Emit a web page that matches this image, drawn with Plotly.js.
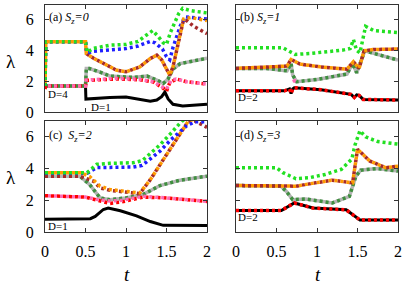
<!DOCTYPE html>
<html><head><meta charset="utf-8">
<script src="https://cdn.plot.ly/plotly-3.0.1.min.js"></script>
<style>html,body{margin:0;padding:0;background:#fff}#chart{width:407px;height:285px}</style>
</head><body><div id="chart"></div>
<script>
// ---------- Panel (a) S_z=0 ----------
const a_black_t = [0, 0.5, 0.505, 0.62, 0.8, 1.0, 1.17, 1.3, 1.38, 1.44, 1.48, 1.52, 1.58, 1.7, 2.0];
const a_black   = [1.69, 1.69, 0.84, 0.89, 0.95, 0.97, 0.84, 0.7, 0.78, 1.0, 1.3, 0.85, 0.5, 0.39, 0.5];
const a_red_t   = [0, 0.01, 0.5, 0.51, 0.68, 0.88, 1.17, 1.34, 1.46, 1.5, 1.54, 1.62, 1.75, 2.0];
const a_red     = [1.5, 1.69, 1.69, 2.05, 2.1, 2.15, 2.1, 1.95, 1.55, 1.35, 1.9, 2.15, 1.97, 1.82];
const a_pink_t  = [0, 0.5, 0.51, 0.68, 0.88, 1.17, 1.34, 1.46, 1.5, 1.56, 1.62, 1.75, 2.0];
const a_pink    = [1.69, 1.69, 2.08, 2.12, 2.19, 2.12, 1.97, 1.6, 1.5, 2.08, 2.15, 1.97, 1.82];
const a_gg_t    = [0, 0.5, 0.51, 0.55, 0.68, 0.8, 1.09, 1.26, 1.38, 1.46, 1.52, 1.58, 1.67, 1.83, 2.0];
const a_gg      = [1.69, 1.69, 2.83, 2.83, 2.6, 2.34, 2.25, 2.34, 2.08, 1.86, 2.16, 2.8, 3.15, 3.3, 3.5];
const a_green_t = [0, 0.01, 0.5, 0.52, 0.6, 0.8, 1.0, 1.15, 1.25, 1.33, 1.4, 1.46, 1.5, 1.55, 1.65, 1.7, 1.8, 2.0];
const a_green   = [1.7, 4.57, 4.57, 3.9, 4.15, 4.35, 4.4, 4.6, 5.0, 5.3, 4.9, 4.5, 4.4, 5.2, 6.4, 6.75, 6.6, 6.45];
const a_blue_t  = [0, 0.01, 0.5, 0.52, 0.6, 0.8, 1.0, 1.15, 1.3, 1.36, 1.45, 1.5, 1.54, 1.58, 1.67, 1.73, 1.85, 2.0];
const a_blue    = [1.7, 4.57, 4.57, 3.85, 3.95, 4.05, 4.13, 4.3, 4.6, 4.5, 4.1, 3.6, 3.4, 4.2, 5.6, 6.2, 6.15, 6.05];
const a_orange_t= [0, 0.01, 0.5, 0.51, 0.6, 0.68, 0.88, 1.0, 1.17, 1.3, 1.38, 1.44, 1.5, 1.54, 1.58, 1.67, 1.71, 1.8, 2.0];
const a_orange  = [1.7, 4.57, 4.57, 3.8, 3.5, 3.27, 2.73, 2.62, 2.94, 3.48, 3.7, 3.4, 2.73, 2.4, 2.94, 5.1, 6.05, 6.15, 5.95];
const a_brown_t = [0, 0.01, 0.5, 0.51, 0.6, 0.68, 0.88, 1.0, 1.17, 1.3, 1.38, 1.44, 1.5, 1.54, 1.58, 1.67, 1.71, 1.75, 1.83, 2.0];
const a_brown   = [1.7, 4.57, 4.57, 3.8, 3.5, 3.27, 2.73, 2.62, 2.94, 3.48, 3.7, 3.4, 2.73, 2.4, 2.94, 5.1, 6.0, 5.95, 5.6, 5.1];

// ---------- Panel (b) S_z=1 ----------
const b_red_t   = [0, 0.6, 0.66, 0.68, 0.7, 0.72, 1.05, 1.42, 1.46, 1.49, 1.52, 1.57, 2.0];
const b_red     = [1.38, 1.38, 1.5, 1.2, 1.5, 1.58, 1.45, 1.15, 0.95, 1.12, 1.08, 0.82, 0.78];
const b_pink_t  = [0.7, 0.72, 0.76];
const b_pink    = [2.3, 2.02, 1.97];
const b_gg_t    = [0, 0.38, 0.63, 0.68, 0.7, 0.75, 1.0, 1.37, 1.44, 1.49, 1.59, 1.7, 2.0];
const b_gg      = [2.84, 2.84, 2.68, 3.16, 2.4, 1.97, 2.12, 2.47, 3.16, 2.55, 3.98, 3.81, 3.38];
const b_green_t = [0, 0.58, 0.67, 0.73, 0.91, 1.12, 1.32, 1.41, 1.45, 1.49, 1.53, 1.6, 1.7, 2.0];
const b_green   = [4.18, 4.18, 3.92, 3.75, 3.81, 3.92, 4.03, 4.13, 4.72, 4.0, 3.85, 5.58, 5.3, 5.17];
const b_orange_t= [0, 0.63, 0.68, 0.79, 1.04, 1.37, 1.45, 1.52, 1.58, 1.7, 2.0];
const b_orange  = [2.84, 2.99, 3.42, 3.12, 2.94, 2.79, 3.27, 2.84, 3.98, 4.07, 4.1];

// ---------- Panel (c) S_z=2 ----------
const c_black_t = [0, 0.5, 0.56, 0.62, 0.72, 0.78, 0.93, 1.13, 1.3, 1.46, 2.0];
const c_black   = [0.81, 0.82, 0.84, 0.98, 1.42, 1.51, 1.34, 1.02, 0.66, 0.42, 0.41];
const c_red_t   = [0, 0.5, 0.65, 0.8, 0.95, 1.21, 1.5, 2.0];
const c_red     = [2.29, 2.2, 2.0, 1.8, 1.9, 2.2, 2.15, 1.93];
const c_pink_t  = [0, 0.5, 0.65, 0.8, 0.95, 1.21, 1.5, 2.0];
const c_pink    = [2.29, 2.2, 2.05, 1.95, 2.0, 2.25, 2.15, 1.93];
const c_gg_t    = [0, 0.43, 0.55, 0.68, 0.8, 1.0, 1.21, 1.42, 1.67, 2.0];
const c_gg      = [3.52, 3.52, 3.0, 2.15, 2.04, 2.15, 2.36, 2.93, 3.27, 3.52];
const c_green_t = [0, 0.52, 0.64, 0.8, 1.09, 1.2, 1.3, 1.42, 1.55, 1.69, 1.85, 2.0];
const c_green   = [3.74, 3.74, 4.27, 4.33, 4.37, 4.5, 4.95, 5.5, 6.2, 7.0, 7.3, 7.4];
const c_blue_t  = [0, 0.52, 0.64, 0.8, 1.09, 1.2, 1.3, 1.42, 1.55, 1.75, 1.85, 2.0];
const c_blue    = [3.7, 3.7, 4.06, 4.08, 4.1, 4.2, 4.6, 5.1, 5.8, 6.7, 6.95, 6.95];
const c_orange_t= [0, 0.45, 0.55, 0.68, 0.8, 1.0, 1.17, 1.3, 1.5, 1.7, 1.77, 1.9, 2.0];
const c_orange  = [3.74, 3.74, 3.5, 2.89, 2.68, 2.55, 2.46, 3.3, 4.9, 6.5, 7.0, 7.2, 7.3];
const c_brown_t = [0, 0.43, 0.6, 0.68, 0.8, 1.09, 1.17, 1.3, 1.5, 1.7, 1.77, 1.85, 2.0];
const c_brown   = [3.52, 3.52, 3.2, 2.78, 2.63, 2.5, 2.42, 3.3, 4.9, 6.5, 7.0, 7.0, 6.6];

// ---------- Panel (d) S_z=3 ----------
const d_red_t   = [0, 0.56, 0.72, 0.95, 1.36, 1.44, 1.53, 2.0];
const d_red     = [1.36, 1.36, 1.83, 1.51, 1.4, 1.08, 0.76, 0.76];
const d_gg_t    = [0, 0.55, 0.62, 0.7, 0.86, 1.19, 1.4, 1.48, 1.54, 1.74, 2.0];
const d_gg      = [2.93, 2.9, 2.57, 2.04, 2.08, 1.83, 2.25, 3.52, 3.9, 4.0, 3.84];
const d_green_t = [0, 0.5, 0.58, 0.74, 0.9, 1.1, 1.3, 1.43, 1.47, 1.5, 1.53, 1.6, 1.75, 2.0];
const d_green   = [4.05, 4.05, 3.74, 3.36, 3.42, 3.63, 3.95, 4.6, 5.5, 6.0, 6.39, 6.0, 5.7, 5.54];
const d_orange_t= [0, 0.74, 0.98, 1.19, 1.44, 1.47, 1.5, 1.65, 1.85, 2.0];
const d_orange  = [2.93, 2.89, 3.1, 3.27, 3.1, 4.2, 5.22, 4.48, 4.05, 4.15];

// ---------- ticks / labels ----------
const xTicks = [0, 0.5, 1, 1.5, 2];
const xTickText = ['0', '0.5', '1', '1.5', '2'];
const yTicks = [0, 2, 4, 6];
const yTickText = ['0', '2', '4', '6'];
const panelLabels = ['(a) <i>S<sub>z</sub>=0</i>', '(b) <i>S<sub>z</sub>=1</i>', '(c)\u00a0 <i>S<sub>z</sub>=2</i>', '(d) <i>S<sub>z</sub>=3</i>'];
const degLabels = ['D=4', 'D=1', 'D=2', 'D=1', 'D=2'];

// ---------- styles ----------
const DA = '3px,3px', DB = '0px,3px,3px,0px';
const LW = 3.5;
const S = {
  black:  {color:'#000000', width:3, dash:'solid'},
  gray:   {color:'#b4b4b4', width:LW, dash:'solid'},
  dgreen: {color:'#3f8f3f', width:LW, dash:DA},
  red:    {color:'#ff0000', width:LW, dash:DA},
  pink:   {color:'#ff69b4', width:LW, dash:DB},
  brown:  {color:'#a52a2a', width:LW, dash:DA},
  blue:   {color:'#1f1fff', width:LW, dash:DA},
  green:  {color:'#22e022', width:LW, dash:DA},
  orange: {color:'#ff9a00', width:LW, dash:DB}
};
const traces = [];
function L(ax, t, v, st){
  traces.push({type:'scatter', mode:'lines', x:t, y:v, xaxis:ax[0], yaxis:ax[1],
    line:Object.assign({shape:'linear'}, st), hoverinfo:'skip', showlegend:false});
}
const A=['x','y'], B=['x2','y2'], C=['x3','y3'], D=['x4','y4'];
// (a)
L(A,a_black_t,a_black,S.black); L(A,a_gg_t,a_gg,S.gray); L(A,a_gg_t,a_gg,S.dgreen);
L(A,a_red_t,a_red,S.red); L(A,a_pink_t,a_pink,S.pink);
L(A,a_brown_t,a_brown,S.brown); L(A,a_blue_t,a_blue,S.blue); L(A,a_green_t,a_green,S.green); L(A,a_orange_t,a_orange,S.orange);
// (b)
L(B,b_red_t,b_red,S.black); L(B,b_gg_t,b_gg,S.gray); L(B,b_gg_t,b_gg,S.dgreen); L(B,b_pink_t,b_pink,S.pink);
L(B,b_red_t,b_red,S.red); L(B,b_orange_t,b_orange,S.brown); L(B,b_green_t,b_green,S.green); L(B,b_orange_t,b_orange,S.orange);
// (c)
L(C,c_black_t,c_black,S.black); L(C,c_gg_t,c_gg,S.gray); L(C,c_gg_t,c_gg,S.dgreen);
L(C,c_red_t,c_red,S.red); L(C,c_pink_t,c_pink,S.pink);
L(C,c_brown_t,c_brown,S.brown); L(C,c_blue_t,c_blue,S.blue); L(C,c_green_t,c_green,S.green); L(C,c_orange_t,c_orange,S.orange);
// (d)
L(D,d_red_t,d_red,S.black); L(D,d_gg_t,d_gg,S.gray); L(D,d_gg_t,d_gg,S.dgreen);
L(D,d_red_t,d_red,S.red); L(D,d_orange_t,d_orange,S.brown); L(D,d_green_t,d_green,S.green); L(D,d_orange_t,d_orange,S.orange);

const W=407, H=285;
const px = x => x/W, py = y => 1 - y/H;
const FONT = 'Liberation Serif, Times New Roman, serif';
function xax(dom, anchor, labels){
  return {domain:dom, anchor:anchor, range:[0,2], tickmode:'array', tickvals:xTicks, ticktext:xTickText,
    showticklabels:labels, ticks:'inside', ticklen:4, tickwidth:1, tickcolor:'#333',
    showline:true, linecolor:'#333', linewidth:1, mirror:'ticks', showgrid:false, zeroline:false,
    tickfont:{family:FONT, size:16, color:'#000'}, ticklabelstandoff:5, fixedrange:true};
}
function yax(dom, anchor, labels){
  return {domain:dom, anchor:anchor, range:[0,7], tickmode:'array', tickvals:yTicks, ticktext:yTickText,
    showticklabels:labels, ticks:'inside', ticklen:4, tickwidth:1, tickcolor:'#333',
    showline:true, linecolor:'#333', linewidth:1, mirror:'ticks', showgrid:false, zeroline:false,
    tickfont:{family:FONT, size:16, color:'#000'}, ticklabelstandoff:7, fixedrange:true};
}
const XL=[px(45),px(207)], XR=[px(236),px(398)], YT=[py(112),py(4.5)], YB=[py(232),py(121)];
function ann(x,y,text,size,xa,ya,extra){
  return Object.assign({xref:'paper', yref:'paper', x:px(x), y:py(y), text:text, showarrow:false,
    xanchor:xa||'left', yanchor:ya||'middle', font:{family:FONT, size:size, color:'#000'}}, extra||{});
}
const layout = {
  width:W, height:H, margin:{l:0,r:0,t:0,b:0}, paper_bgcolor:'#fff', plot_bgcolor:'#fff', showlegend:false,
  xaxis: xax(XL,'y',false),  yaxis: yax(YT,'x',true),
  xaxis2:xax(XR,'y2',false), yaxis2:yax(YT,'x2',false),
  xaxis3:xax(XL,'y3',true),  yaxis3:yax(YB,'x3',true),
  xaxis4:xax(XR,'y4',true),  yaxis4:yax(YB,'x4',false),
  annotations:[
    ann(47,18,panelLabels[0],12), ann(238,18,panelLabels[1],12),
    ann(47,136,panelLabels[2],12), ann(238,136,panelLabels[3],12),
    ann(46,94,degLabels[0],11), ann(89,107,degLabels[1],11), ann(236,97,degLabels[2],11),
    ann(46,226,degLabels[3],11), ann(236,217,degLabels[4],11),
    ann(11,61,'λ',19,'center','middle'), ann(11,177,'λ',19,'center','middle'),
    ann(127,274,'<i>t</i>',19,'center','middle'), ann(318,274,'<i>t</i>',19,'center','middle')
  ]
};
Plotly.newPlot('chart', traces, layout, {staticPlot:true, displayModeBar:false});
</script></body></html>
